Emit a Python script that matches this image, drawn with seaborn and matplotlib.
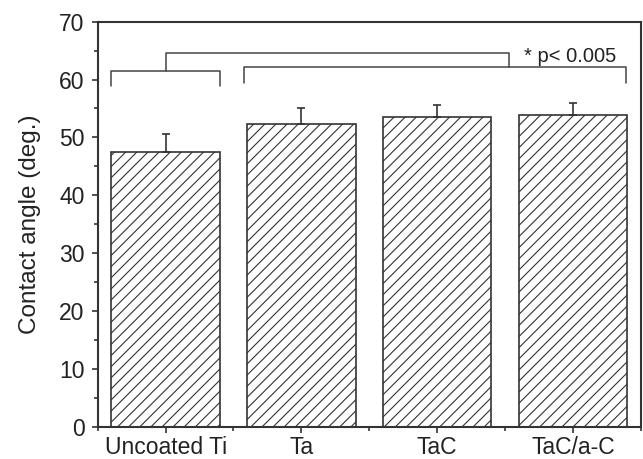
import matplotlib
matplotlib.use("Agg")
import matplotlib.pyplot as plt
from matplotlib.ticker import MultipleLocator, FixedLocator
import seaborn as sns
import pandas as pd

categories = ["Uncoated Ti", "Ta", "TaC", "TaC/a-C"]
contact_angle = [47.5, 52.3, 53.5, 53.9]
error_upper = [3.1, 2.8, 2.1, 2.0]
significance_label = "* p< 0.005"

sns.set_style("ticks")
plt.rcParams["font.family"] = ["Liberation Sans", "DejaVu Sans"]
plt.rcParams["hatch.color"] = "#444444"
plt.rcParams["hatch.linewidth"] = 0.8

df = pd.DataFrame({"group": categories, "angle": contact_angle})

fig = plt.figure(figsize=(6.43, 4.59), dpi=100)
ax = fig.add_axes([0.152, 0.0704, 0.8444, 0.8823])

sns.barplot(data=df, x="group", y="angle", color="white", edgecolor="#333333",
            linewidth=1.2, width=0.8, errorbar=None, ax=ax, zorder=2)
for p in ax.patches:
    p.set_hatch("///")
    p.set_facecolor("white")
    p.set_edgecolor("#333333")

xpos = list(range(len(categories)))
ax.errorbar(xpos, contact_angle, yerr=[[0] * len(error_upper), error_upper],
            fmt="none", ecolor="#333333", elinewidth=1.2, capsize=2.8,
            capthick=1.2, zorder=3)

# significance brackets
bc = "#444444"
blw = 1.1
ax.plot([-0.4, -0.4, 0.4, 0.4], [58.9, 61.5, 61.5, 58.9], color=bc, lw=blw, clip_on=False)
ax.plot([0.58, 0.58, 3.39, 3.39], [59.35, 62.2, 62.2, 59.35], color=bc, lw=blw, clip_on=False)
ax.plot([0.0, 0.0, 2.53, 2.53], [61.5, 64.6, 64.6, 62.2], color=bc, lw=blw, clip_on=False)
ax.text(2.64, 63.1, significance_label, fontsize=14.5, va="baseline", ha="left", color="#222222")

ax.set_xlim(-0.5, 3.5)
ax.set_ylim(0, 70)
ax.yaxis.set_major_locator(MultipleLocator(10))
ax.yaxis.set_minor_locator(MultipleLocator(5))
ax.xaxis.set_minor_locator(FixedLocator([-0.5, 0.5, 1.5, 2.5, 3.5]))

ax.set_xlabel("")
ax.set_ylabel("Contact angle (deg.)", fontsize=17.5, labelpad=13, color="#222222")

for s in ax.spines.values():
    s.set_visible(True)
    s.set_linewidth(1.5)
    s.set_color("#333333")

ax.tick_params(axis="both", which="major", direction="out", length=4.5, width=1.2,
               colors="#333333", labelsize=16.5, labelcolor="#222222")
ax.tick_params(axis="both", which="minor", direction="out", length=2.6, width=1.2,
               colors="#333333")
ax.tick_params(axis="x", which="major", pad=2)
ax.tick_params(axis="y", which="major", pad=5)
ax.tick_params(top=False, right=False, which="both")

fig.savefig("out.png", dpi=100)
